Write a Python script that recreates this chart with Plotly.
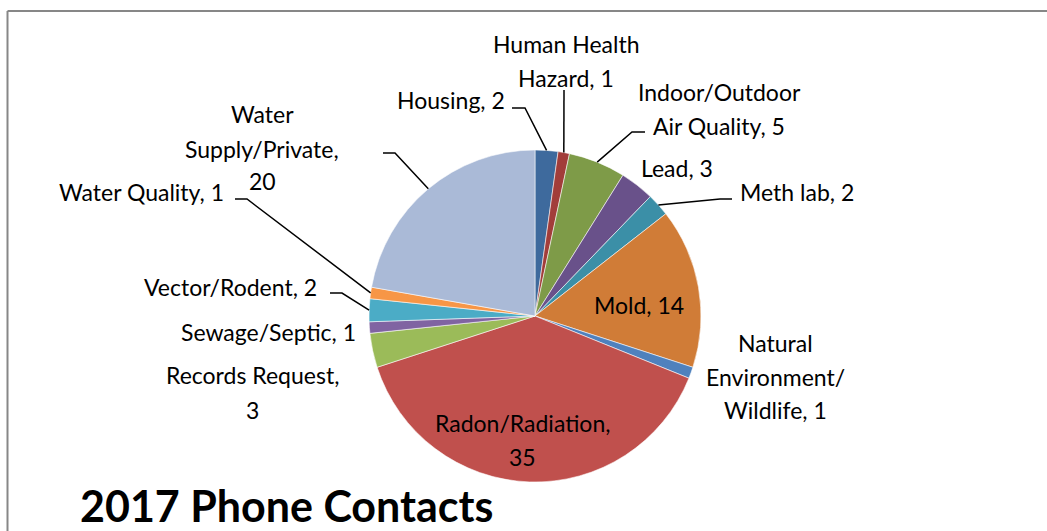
import math
import plotly.graph_objects as go

W, H = 1047, 531

categories = ["Housing", "Human Health Hazard", "Indoor/Outdoor Air Quality", "Lead",
              "Meth lab", "Mold", "Natural Environment/ Wildlife", "Radon/Radiation",
              "Records Request", "Sewage/Septic", "Vector/Rodent", "Water Quality",
              "Water Supply/Private"]
values = [2, 1, 5, 3, 2, 14, 1, 35, 3, 1, 2, 1, 20]
colors = ["#3E6A9D", "#A23D3A", "#7E9B48", "#69518A", "#3B8FA7", "#D07C37", "#4F81BD",
          "#C0504D", "#9BBB59", "#8064A2", "#4BACC6", "#F79646", "#AABAD7"]

# label lines (text, centre x px, centre y px)
label_lines = [
    [("Housing, 2", 451, 100)],
    [("Human Health", 566, 44), ("Hazard, 1", 566, 78)],
    [("Indoor/Outdoor", 719, 92), ("Air Quality, 5", 719, 126)],
    [("Lead, 3", 677, 168)],
    [("Meth lab, 2", 797, 192)],
    [("Mold, 14", 639, 305)],
    [("Natural", 775, 343), ("Environment/", 775, 377), ("Wildlife, 1", 775, 410)],
    [("Radon/Radiation,", 522, 423), ("35", 522, 457)],
    [("Records Request,", 252, 375), ("3", 252, 410)],
    [("Sewage/Septic, 1", 268, 332)],
    [("Vector/Rodent, 2", 230, 287)],
    [("Water Quality, 1", 141, 192)],
    [("Water", 262, 114), ("Supply/Private,", 262, 149), ("20", 262, 181)],
]
# leader line anchor points near labels (px), None = no leader
leader_pts = [
    [(512, 108), (525, 108)],
    [(564, 90)],
    [(645, 132), (632, 132)],
    None,
    [(732, 199), (720, 199)],
    None,
    None,
    None,
    None,
    None,
    [(330, 293), (342, 293)],
    [(235, 199), (247, 199)],
    [(383, 153), (395, 153)],
]

CX, CY, R = 535, 316, 166


def px(x):
    return x / W


def py(y):
    return 1 - y / H


fig = go.Figure(go.Pie(
    labels=categories, values=values, sort=False, direction="clockwise", rotation=0,
    marker=dict(colors=colors, line=dict(color="rgba(255,255,255,0.7)", width=0.8)),
    textinfo="none", hoverinfo="label+value", showlegend=False,
    domain=dict(x=[px(CX - R), px(CX + R)], y=[py(CY + R), py(CY - R)]),
))

total = sum(values)
cum = 0
shapes = []
annotations = []
font = dict(family="Lato, 'Open Sans', sans-serif", size=23, color="#000000")
for i, v in enumerate(values):
    mid = (cum + v / 2) / total * 2 * math.pi
    cum += v
    ex = CX + R * math.sin(mid)
    ey = CY - R * math.cos(mid)
    pts = leader_pts[i]
    if pts:
        path_pts = pts + [(ex, ey)]
        d = "M " + " L ".join(f"{px(x)},{py(y)}" for x, y in path_pts)
        shapes.append(dict(type="path", xref="paper", yref="paper", path=d,
                           line=dict(color="#000000", width=1.5)))
    for text, tx, ty in label_lines[i]:
        annotations.append(dict(text=text, x=px(tx), y=py(ty), xref="paper", yref="paper",
                                xanchor="center", yanchor="middle", showarrow=False, font=font))

annotations.append(dict(text="<b>2017 Phone Contacts</b>", x=px(78), y=py(505), xref="paper",
                        yref="paper", xanchor="left", yanchor="middle", showarrow=False,
                        font=dict(family="Lato, 'Open Sans', sans-serif", size=43, color="#000000")))

# chart frame
shapes.append(dict(type="line", xref="paper", yref="paper", x0=px(7.5), x1=1.0, y0=py(11), y1=py(11),
                   line=dict(color="#878787", width=2)))
shapes.append(dict(type="line", xref="paper", yref="paper", x0=px(7.5), x1=px(7.5), y0=py(11), y1=0,
                   line=dict(color="#878787", width=2)))

fig.update_layout(width=W, height=H, margin=dict(l=0, r=0, t=0, b=0),
                  paper_bgcolor="white", plot_bgcolor="white",
                  shapes=shapes, annotations=annotations)

fig.write_html("out.html", config={"displayModeBar": False},
               post_script="document.body.style.margin='0';document.body.style.overflow='hidden';")
